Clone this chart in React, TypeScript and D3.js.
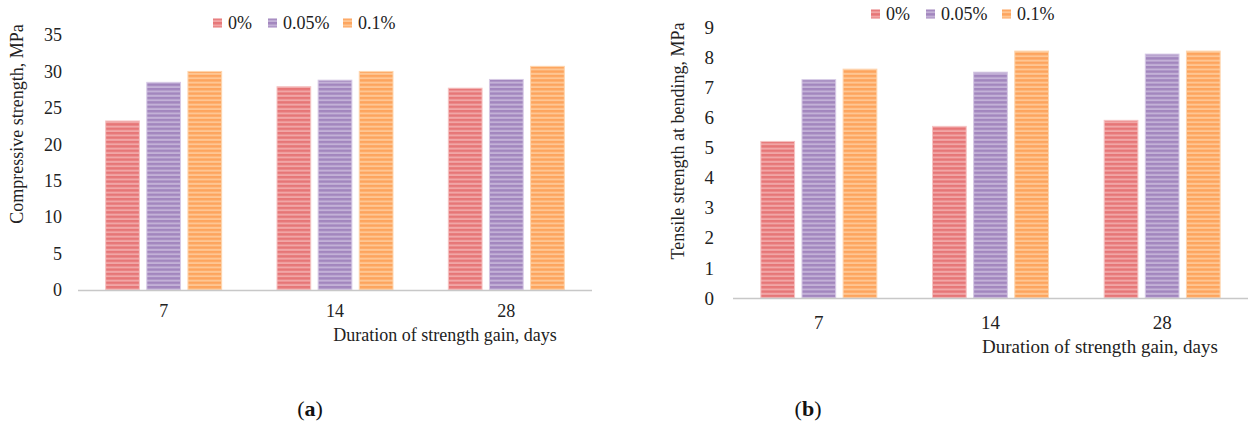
import React, { useEffect, useRef } from 'react';
import * as d3 from 'd3';

// categories and series
const days = ['7', '14', '28'];
const seriesNames = ['0%', '0.05%', '0.1%'];

// (a) compressive strength, MPa
const compressive0 = [23.2, 27.9, 27.7];
const compressive005 = [28.5, 28.8, 28.9];
const compressive01 = [30.0, 30.0, 30.7];

// (b) tensile strength at bending, MPa
const tensile0 = [5.2, 5.7, 5.9];
const tensile005 = [7.25, 7.5, 8.1];
const tensile01 = [7.6, 8.2, 8.2];

const compressiveTicks = [0, 5, 10, 15, 20, 25, 30, 35];
const tensileTicks = [0, 1, 2, 3, 4, 5, 6, 7, 8, 9];

const FONT = '"Liberation Serif", serif';

// stripe colours per series: dark, light, edge
const palette = [
  { id: 'red', dark: '#e67677', light: '#f1a6a6', edge: '#f5c3c3' },
  { id: 'purple', dark: '#a286be', light: '#c3b1d7', edge: '#d6c9e5' },
  { id: 'orange', dark: '#fda45d', light: '#fec693', edge: '#fed5ae' },
];

interface PanelSpec {
  values: number[][];
  ticks: number[];
  yMax: number;
  left: number;
  right: number;
  bottom: number;
  top: number;
  fontSize: number;
  yTitle: string;
  yTitleX: number;
  yTitleY: number;
  tickX: number;
  xLabelY: number;
  xTitleX: number;
  xTitleY: number;
  legendX: number[];
  legendY: number;
  caption: string;
  captionX: number;
}

const panels: PanelSpec[] = [
  {
    values: [compressive0, compressive005, compressive01],
    ticks: compressiveTicks,
    yMax: 35,
    left: 78,
    right: 592,
    bottom: 290,
    top: 35,
    fontSize: 18,
    yTitle: 'Compressive strength, MPa',
    yTitleX: 17,
    yTitleY: 124,
    tickX: 62,
    xLabelY: 311,
    xTitleX: 445,
    xTitleY: 335,
    legendX: [213, 268, 343],
    legendY: 23,
    caption: 'a',
    captionX: 310,
  },
  {
    values: [tensile0, tensile005, tensile01],
    ticks: tensileTicks,
    yMax: 9,
    left: 733,
    right: 1248,
    bottom: 298,
    top: 27,
    fontSize: 19,
    yTitle: 'Tensile strength at bending, MPa',
    yTitleX: 678,
    yTitleY: 141,
    tickX: 714,
    xLabelY: 322,
    xTitleX: 1100,
    xTitleY: 346,
    legendX: [871, 926, 1002],
    legendY: 14,
    caption: 'b',
    captionX: 808,
  },
];

const App: React.FC = () => {
  const svgRef = useRef<SVGSVGElement>(null);

  useEffect(() => {
    if (!svgRef.current) return;
    const svg = d3.select(svgRef.current);
    svg.selectAll('*').remove();

    // striped fills
    const defs = svg.append('defs');
    palette.forEach(p => {
      const pat = defs.append('pattern')
        .attr('id', `stripe-${p.id}`)
        .attr('patternUnits', 'userSpaceOnUse')
        .attr('width', 8)
        .attr('height', 4.4);
      pat.append('rect').attr('width', 8).attr('height', 4.4).attr('fill', p.light);
      pat.append('rect').attr('width', 8).attr('height', 2.4).attr('fill', p.dark);
    });

    panels.forEach(panel => {
      const g = svg.append('g');
      const fs = panel.fontSize;

      const x = d3.scaleBand<string>()
        .domain(days)
        .range([panel.left, panel.right]);

      const groupWidth = 116;
      const inner = d3.scaleBand<string>()
        .domain(seriesNames)
        .range([(x.bandwidth() - groupWidth) / 2, (x.bandwidth() + groupWidth) / 2])
        .paddingInner(0.18);

      const y = d3.scaleLinear()
        .domain([0, panel.yMax])
        .range([panel.bottom, panel.top]);

      // bars
      panel.values.forEach((series, si) => {
        g.selectAll(`.bar-${si}`)
          .data(series)
          .enter()
          .append('rect')
          .attr('x', (_d, i) => (x(days[i]) || 0) + (inner(seriesNames[si]) || 0))
          .attr('y', d => y(d))
          .attr('width', inner.bandwidth())
          .attr('height', d => y(0) - y(d))
          .attr('fill', `url(#stripe-${palette[si].id})`)
          .attr('stroke', palette[si].edge)
          .attr('stroke-width', 1);
      });

      // baseline
      g.append('line')
        .attr('x1', panel.left)
        .attr('x2', panel.right)
        .attr('y1', y(0) + 0.5)
        .attr('y2', y(0) + 0.5)
        .attr('stroke', '#c8c8c8')
        .attr('stroke-width', 1.5);

      // y tick labels
      g.selectAll('.ytick')
        .data(panel.ticks)
        .enter()
        .append('text')
        .attr('x', panel.tickX)
        .attr('y', d => y(d))
        .attr('dy', '0.35em')
        .attr('text-anchor', 'end')
        .attr('font-family', FONT)
        .attr('font-size', fs)
        .attr('fill', '#222')
        .text(d => d);

      // x tick labels
      g.selectAll('.xtick')
        .data(days)
        .enter()
        .append('text')
        .attr('x', d => (x(d) || 0) + x.bandwidth() / 2)
        .attr('y', panel.xLabelY)
        .attr('dy', '0.35em')
        .attr('text-anchor', 'middle')
        .attr('font-family', FONT)
        .attr('font-size', fs)
        .attr('fill', '#222')
        .text(d => d);

      // axis titles
      g.append('text')
        .attr('x', panel.xTitleX)
        .attr('y', panel.xTitleY)
        .attr('dy', '0.35em')
        .attr('text-anchor', 'middle')
        .attr('font-family', FONT)
        .attr('font-size', fs)
        .attr('fill', '#222')
        .text('Duration of strength gain, days');

      g.append('text')
        .attr('transform', `translate(${panel.yTitleX},${panel.yTitleY}) rotate(-90)`)
        .attr('dy', '0.35em')
        .attr('text-anchor', 'middle')
        .attr('font-family', FONT)
        .attr('font-size', 18)
        .attr('fill', '#222')
        .text(panel.yTitle);

      // legend
      seriesNames.forEach((name, si) => {
        const lx = panel.legendX[si];
        g.append('rect')
          .attr('x', lx)
          .attr('y', panel.legendY - 4.5)
          .attr('width', 9)
          .attr('height', 9)
          .attr('fill', `url(#stripe-${palette[si].id})`);
        g.append('text')
          .attr('x', lx + 15)
          .attr('y', panel.legendY)
          .attr('dy', '0.35em')
          .attr('font-family', FONT)
          .attr('font-size', 18)
          .attr('fill', '#222')
          .text(name);
      });

      // caption
      const cap = g.append('text')
        .attr('x', panel.captionX)
        .attr('y', 408)
        .attr('dy', '0.35em')
        .attr('text-anchor', 'middle')
        .attr('font-family', FONT)
        .attr('font-size', 22)
        .attr('fill', '#111');
      cap.append('tspan').text('(');
      cap.append('tspan').attr('font-weight', 'bold').text(panel.caption);
      cap.append('tspan').text(')');
    });
  }, []);

  return (
    <svg
      ref={svgRef}
      width={1250}
      height={425}
      style={{ display: 'block', position: 'absolute', left: 0, top: 0, background: '#fff' }}
    />
  );
};

export default App;
